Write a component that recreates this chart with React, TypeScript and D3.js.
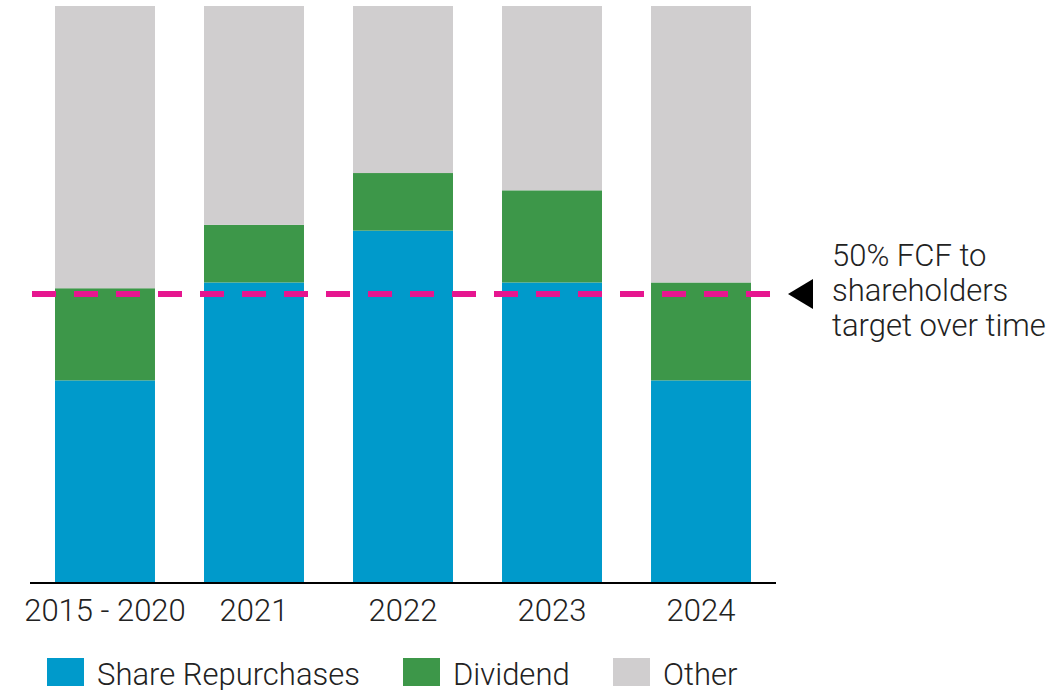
import React from "react";
import * as d3 from "d3";

const categories = ["2015 - 2020", "2021", "2022", "2023", "2024"];
const shareRepurchases = [35, 52, 61, 52, 35];
const dividend = [16, 10, 10, 16, 17];
const other = [49, 38, 29, 32, 48];
const targetPct = 50;
const seriesNames = ["Share Repurchases", "Dividend", "Other"];
const seriesColors = ["#009ACB", "#3D9749", "#D0CECF"];
const annotationLines = ["50% FCF to", "shareholders", "target over time"];

const W = 1059;
const H = 690;
const FONT = "Roboto, 'Noto Sans', sans-serif";

export default function App() {
  const x = d3.scaleBand<string>().domain(categories).range([55, 751]).paddingInner(0.329).paddingOuter(0);
  const y = d3.scaleLinear().domain([0, 100]).range([582, 6]);

  const rows = categories.map((c, i) => ({
    cat: c,
    s0: shareRepurchases[i],
    s1: dividend[i],
    s2: other[i],
  }));
  const stack = d3.stack<any>().keys(["s0", "s1", "s2"]);
  const layers = stack(rows);

  const ty = y(targetPct);
  const legendX = [47, 403, 613];

  return (
    <svg width={W} height={H} style={{ position: "absolute", left: 0, top: 0 }}>
      {layers.map((layer, li) => (
        <g key={li} fill={seriesColors[li]}>
          {layer.map((d, i) => (
            <rect
              key={i}
              x={x(categories[i])}
              y={y(d[1])}
              width={x.bandwidth()}
              height={y(d[0]) - y(d[1])}
            />
          ))}
        </g>
      ))}
      <line x1={30} x2={776} y1={583} y2={583} stroke="#000" strokeWidth={2} />
      <line
        x1={32}
        x2={770}
        y1={ty}
        y2={ty}
        stroke="#E6168F"
        strokeWidth={6}
        strokeDasharray="24 18"
      />
      <path d={`M788,${ty} L813,${ty - 15} L813,${ty + 15} Z`} fill="#000" />
      <text x={832} y={266} fontFamily={FONT} fontWeight={300} fontSize={31} fill="#222">
        {annotationLines.map((t, i) => (
          <tspan key={i} x={832} dy={i === 0 ? 0 : 35}>
            {t}
          </tspan>
        ))}
      </text>
      {categories.map((c) => (
        <text
          key={c}
          x={(x(c) as number) + x.bandwidth() / 2}
          y={621}
          textAnchor="middle"
          fontFamily={FONT}
          fontWeight={300}
          fontSize={31}
          fill="#222"
        >
          {c}
        </text>
      ))}
      {seriesNames.map((n, i) => (
        <g key={n}>
          <rect x={legendX[i]} y={658} width={37} height={28} fill={seriesColors[i]} />
          <text x={legendX[i] + 50} y={685} fontFamily={FONT} fontWeight={300} fontSize={31} fill="#222">
            {n}
          </text>
        </g>
      ))}
    </svg>
  );
}
